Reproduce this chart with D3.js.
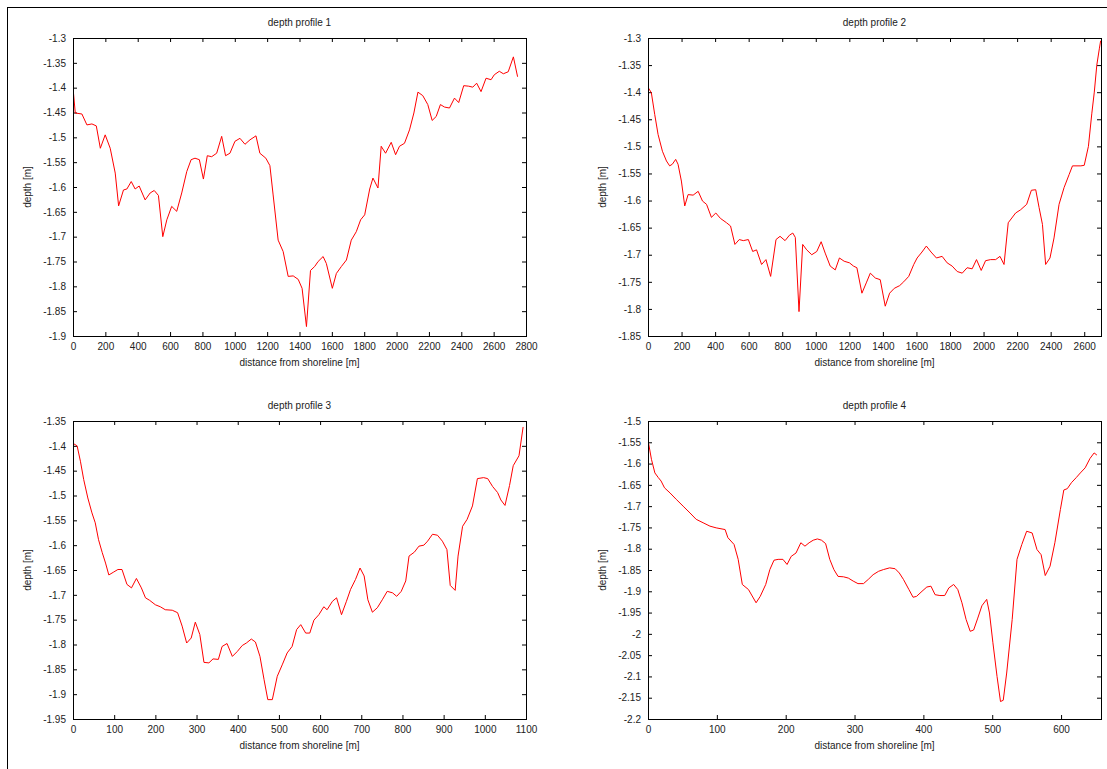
<!DOCTYPE html>
<html>
<head>
<meta charset="utf-8">
<script src="https://cdn.jsdelivr.net/npm/d3@7"></script>
<style>
  html, body { margin: 0; padding: 0; background: #fff; }
  svg { display: block; }
  text { font-family: "Liberation Sans", Arial, sans-serif; fill: #222; }
</style>
</head>
<body>
<svg id="chart" width="1107" height="769"></svg>
<script>
// Depth profiles: [distance from shoreline (m), depth (m)]
const profile1 = [
  [0,-1.40],[14,-1.451],[55,-1.453],[86,-1.475],[117,-1.473],[144,-1.477],[169,-1.522],[199,-1.495],
  [230,-1.522],[261,-1.572],[282,-1.638],[312,-1.606],[333,-1.604],[360,-1.589],[384,-1.604],[409,-1.598],
  [446,-1.626],[477,-1.612],[502,-1.607],[528,-1.617],[555,-1.700],[580,-1.666],[610,-1.639],[641,-1.649],
  [672,-1.612],[703,-1.569],[730,-1.545],[754,-1.542],[781,-1.545],[806,-1.584],[830,-1.537],[857,-1.539],
  [888,-1.532],[919,-1.498],[943,-1.537],[970,-1.532],[1001,-1.508],[1032,-1.502],[1063,-1.514],[1094,-1.505],
  [1131,-1.497],[1155,-1.532],[1192,-1.542],[1217,-1.557],[1237,-1.616],[1268,-1.707],[1299,-1.730],[1330,-1.780],
  [1361,-1.779],[1392,-1.786],[1416,-1.804],[1443,-1.881],[1468,-1.768],[1494,-1.760],[1515,-1.750],[1546,-1.740],
  [1566,-1.754],[1603,-1.804],[1628,-1.774],[1659,-1.760],[1690,-1.747],[1720,-1.707],[1751,-1.690],[1778,-1.666],
  [1803,-1.656],[1834,-1.604],[1854,-1.582],[1885,-1.602],[1905,-1.518],[1932,-1.532],[1967,-1.510],[1994,-1.535],
  [2018,-1.518],[2049,-1.512],[2080,-1.485],[2107,-1.451],[2132,-1.409],[2162,-1.416],[2193,-1.434],[2220,-1.466],
  [2245,-1.458],[2271,-1.434],[2296,-1.439],[2327,-1.441],[2358,-1.421],[2384,-1.430],[2415,-1.396],[2446,-1.397],
  [2471,-1.399],[2495,-1.391],[2522,-1.408],[2553,-1.381],[2584,-1.384],[2604,-1.374],[2635,-1.367],[2660,-1.372],
  [2690,-1.368],[2722,-1.338],[2748,-1.378]
];

const profile2 = [
  [0,-1.391],[20,-1.401],[40,-1.441],[60,-1.478],[86,-1.509],[110,-1.527],[129,-1.536],[145,-1.533],
  [165,-1.524],[179,-1.533],[199,-1.564],[219,-1.610],[239,-1.589],[269,-1.590],[299,-1.583],[325,-1.601],
  [349,-1.607],[378,-1.631],[404,-1.623],[432,-1.633],[468,-1.641],[492,-1.647],[518,-1.681],[544,-1.672],
  [568,-1.674],[598,-1.672],[624,-1.694],[647,-1.691],[677,-1.718],[703,-1.709],[731,-1.740],[763,-1.672],
  [787,-1.666],[817,-1.674],[843,-1.664],[863,-1.660],[878,-1.668],[900,-1.805],[922,-1.681],[946,-1.691],
  [976,-1.700],[1006,-1.694],[1032,-1.676],[1056,-1.697],[1086,-1.721],[1116,-1.728],[1141,-1.706],[1169,-1.712],
  [1201,-1.715],[1225,-1.721],[1245,-1.724],[1275,-1.771],[1301,-1.752],[1325,-1.734],[1355,-1.743],[1384,-1.746],
  [1414,-1.795],[1440,-1.771],[1468,-1.762],[1500,-1.757],[1524,-1.750],[1554,-1.740],[1584,-1.718],[1604,-1.706],
  [1633,-1.695],[1659,-1.684],[1687,-1.695],[1719,-1.706],[1753,-1.703],[1783,-1.715],[1813,-1.721],[1843,-1.731],
  [1873,-1.734],[1902,-1.724],[1932,-1.726],[1958,-1.709],[1986,-1.729],[2012,-1.711],[2042,-1.709],[2072,-1.709],
  [2098,-1.703],[2122,-1.718],[2147,-1.641],[2191,-1.623],[2221,-1.617],[2257,-1.607],[2285,-1.581],[2311,-1.580],
  [2331,-1.613],[2351,-1.644],[2370,-1.718],[2396,-1.706],[2420,-1.669],[2450,-1.607],[2480,-1.576],[2510,-1.552],
  [2530,-1.536],[2580,-1.536],[2600,-1.535],[2625,-1.500],[2645,-1.440],[2660,-1.400],[2675,-1.350],[2690,-1.320],
  [2698,-1.305]
];

const profile3 = [
  [0,-1.395],[10,-1.400],[18,-1.431],[26,-1.468],[36,-1.505],[46,-1.535],[54,-1.555],[62,-1.589],
  [71,-1.615],[79,-1.636],[87,-1.660],[99,-1.654],[109,-1.649],[119,-1.649],[131,-1.679],[142,-1.686],
  [154,-1.667],[166,-1.686],[176,-1.706],[186,-1.711],[200,-1.720],[212,-1.724],[224,-1.730],[241,-1.731],
  [254,-1.736],[265,-1.763],[276,-1.797],[287,-1.787],[297,-1.755],[308,-1.780],[318,-1.836],[330,-1.837],
  [340,-1.829],[353,-1.830],[362,-1.804],[374,-1.798],[387,-1.824],[399,-1.814],[411,-1.802],[421,-1.797],
  [433,-1.789],[443,-1.795],[454,-1.824],[464,-1.871],[473,-1.911],[484,-1.911],[496,-1.864],[508,-1.841],
  [520,-1.817],[532,-1.804],[543,-1.770],[553,-1.760],[565,-1.777],[575,-1.777],[585,-1.751],[597,-1.740],
  [609,-1.724],[617,-1.730],[630,-1.713],[640,-1.706],[652,-1.740],[664,-1.713],[674,-1.689],[686,-1.669],
  [697,-1.646],[707,-1.662],[716,-1.710],[727,-1.735],[739,-1.726],[751,-1.710],[763,-1.693],[776,-1.696],
  [786,-1.703],[797,-1.693],[808,-1.672],[816,-1.622],[829,-1.614],[840,-1.602],[852,-1.600],[861,-1.592],
  [873,-1.578],[885,-1.580],[897,-1.592],[908,-1.609],[916,-1.681],[928,-1.691],[935,-1.622],[946,-1.562],
  [957,-1.548],[970,-1.521],[982,-1.466],[997,-1.464],[1007,-1.466],[1019,-1.482],[1031,-1.494],[1039,-1.509],
  [1049,-1.520],[1060,-1.480],[1069,-1.440],[1083,-1.420],[1093,-1.362]
];

const profile4 = [
  [0,-1.545],[5,-1.590],[10,-1.622],[15,-1.633],[19,-1.641],[24,-1.657],[32,-1.669],[41,-1.684],
  [51,-1.700],[61,-1.716],[70,-1.731],[80,-1.739],[90,-1.747],[99,-1.751],[112,-1.755],[116,-1.774],
  [125,-1.790],[131,-1.825],[137,-1.884],[146,-1.896],[157,-1.927],[163,-1.912],[171,-1.884],[177,-1.849],
  [183,-1.827],[189,-1.825],[196,-1.825],[202,-1.837],[208,-1.818],[215,-1.810],[222,-1.786],[228,-1.794],
  [234,-1.786],[240,-1.780],[246,-1.777],[252,-1.780],[258,-1.788],[264,-1.825],[270,-1.849],[276,-1.865],
  [284,-1.866],[291,-1.869],[298,-1.876],[305,-1.882],[313,-1.882],[320,-1.872],[327,-1.861],[335,-1.853],
  [342,-1.849],[351,-1.845],[359,-1.847],[365,-1.857],[371,-1.872],[379,-1.896],[385,-1.914],[390,-1.912],
  [398,-1.900],[405,-1.890],[411,-1.888],[417,-1.908],[424,-1.910],[431,-1.910],[437,-1.892],[444,-1.884],
  [450,-1.896],[456,-1.927],[462,-1.966],[468,-1.994],[473,-1.991],[479,-1.963],[485,-1.934],[492,-1.919],
  [496,-1.951],[501,-2.021],[507,-2.100],[512,-2.159],[516,-2.156],[521,-2.092],[529,-1.966],[536,-1.825],
  [543,-1.790],[550,-1.759],[558,-1.763],[565,-1.802],[571,-1.814],[577,-1.863],[584,-1.841],[591,-1.786],
  [599,-1.708],[604,-1.662],[609,-1.659],[615,-1.645],[622,-1.633],[628,-1.622],[635,-1.610],[642,-1.588],
  [648,-1.575],[652,-1.580]
];

// Axis tick values
const xTicks1 = [0,200,400,600,800,1000,1200,1400,1600,1800,2000,2200,2400,2600,2800];
const yTicks1 = [-1.3,-1.35,-1.4,-1.45,-1.5,-1.55,-1.6,-1.65,-1.7,-1.75,-1.8,-1.85,-1.9];
const xTicks2 = [0,200,400,600,800,1000,1200,1400,1600,1800,2000,2200,2400,2600];
const yTicks2 = [-1.3,-1.35,-1.4,-1.45,-1.5,-1.55,-1.6,-1.65,-1.7,-1.75,-1.8,-1.85];
const xTicks3 = [0,100,200,300,400,500,600,700,800,900,1000,1100];
const yTicks3 = [-1.35,-1.4,-1.45,-1.5,-1.55,-1.6,-1.65,-1.7,-1.75,-1.8,-1.85,-1.9,-1.95];
const xTicks4 = [0,100,200,300,400,500,600];
const yTicks4 = [-1.5,-1.55,-1.6,-1.65,-1.7,-1.75,-1.8,-1.85,-1.9,-1.95,-2,-2.05,-2.1,-2.15,-2.2];

const titles = ["depth profile 1", "depth profile 2", "depth profile 3", "depth profile 4"];
const xLabel = "distance from shoreline [m]";
const yLabel = "depth [m]";

const panels = [
  { title: titles[0], data: profile1, xDomain: [0, 2800], yDomain: [-1.9, -1.3],  xTicks: xTicks1, yTicks: yTicks1, left: 73,  top: 38 },
  { title: titles[1], data: profile2, xDomain: [0, 2700], yDomain: [-1.85, -1.3], xTicks: xTicks2, yTicks: yTicks2, left: 648, top: 38 },
  { title: titles[2], data: profile3, xDomain: [0, 1100], yDomain: [-1.95, -1.35], xTicks: xTicks3, yTicks: yTicks3, left: 73,  top: 421 },
  { title: titles[3], data: profile4, xDomain: [0, 658],  yDomain: [-2.2, -1.5],  xTicks: xTicks4, yTicks: yTicks4, left: 648, top: 421 }
];

const W = 453, H = 298, TICK = 4;
const fmt = d => String(+(+d).toFixed(2));

const svg = d3.select("#chart");

// outer frame
svg.append("line").attr("x1", 7.5).attr("x2", 7.5).attr("y1", 7).attr("y2", 769)
  .attr("stroke", "#000").attr("stroke-width", 1);
svg.append("line").attr("x1", 7).attr("x2", 1107).attr("y1", 7.5).attr("y2", 7.5)
  .attr("stroke", "#000").attr("stroke-width", 1);

panels.forEach((p, i) => {
  const g = svg.append("g").attr("transform", `translate(${p.left},${p.top})`);
  const x = d3.scaleLinear().domain(p.xDomain).range([0, W]);
  const y = d3.scaleLinear().domain(p.yDomain).range([H, 0]);

  const styleAxis = sel => {
    sel.select(".domain").remove();
    sel.selectAll(".tick line").attr("stroke", "#000");
    sel.selectAll(".tick text").style("font-size", "10px")
      .style("font-family", "'Liberation Sans', Arial, sans-serif").attr("fill", "#222");
  };

  g.append("g").attr("transform", `translate(0,${H})`)
    .call(d3.axisBottom(x).tickValues(p.xTicks).tickSize(-TICK).tickPadding(7).tickFormat(fmt))
    .call(styleAxis);
  g.append("g")
    .call(d3.axisTop(x).tickValues(p.xTicks).tickSize(-TICK).tickFormat(""))
    .call(styleAxis);
  g.append("g")
    .call(d3.axisLeft(y).tickValues(p.yTicks).tickSize(-TICK).tickPadding(7).tickFormat(fmt))
    .call(styleAxis);
  g.append("g").attr("transform", `translate(${W},0)`)
    .call(d3.axisRight(y).tickValues(p.yTicks).tickSize(-TICK).tickFormat(""))
    .call(styleAxis);

  const clipId = "clip" + i;
  g.append("clipPath").attr("id", clipId)
    .append("rect").attr("x", 0).attr("y", 0).attr("width", W).attr("height", H);

  const line = d3.line().x(d => x(d[0])).y(d => y(d[1]));
  g.append("path").datum(p.data)
    .attr("clip-path", `url(#${clipId})`)
    .attr("fill", "none").attr("stroke", "#ff0000").attr("stroke-width", 1)
    .attr("stroke-linejoin", "round")
    .attr("d", line);

  // plot border
  g.append("rect").attr("x", 0.5).attr("y", 0.5).attr("width", W).attr("height", H)
    .attr("fill", "none").attr("stroke", "#000").attr("stroke-width", 1);

  g.append("text").attr("x", W / 2).attr("y", -12).attr("text-anchor", "middle")
    .style("font-size", "10px").text(p.title);
  g.append("text").attr("x", W / 2).attr("y", H + 30).attr("text-anchor", "middle")
    .style("font-size", "10px").text(xLabel);
  g.append("text").attr("transform", `translate(-46,${H / 2}) rotate(-90)`)
    .attr("text-anchor", "middle").attr("dy", "0.35em")
    .style("font-size", "10px").text(yLabel);
});
</script>
</body>
</html>
